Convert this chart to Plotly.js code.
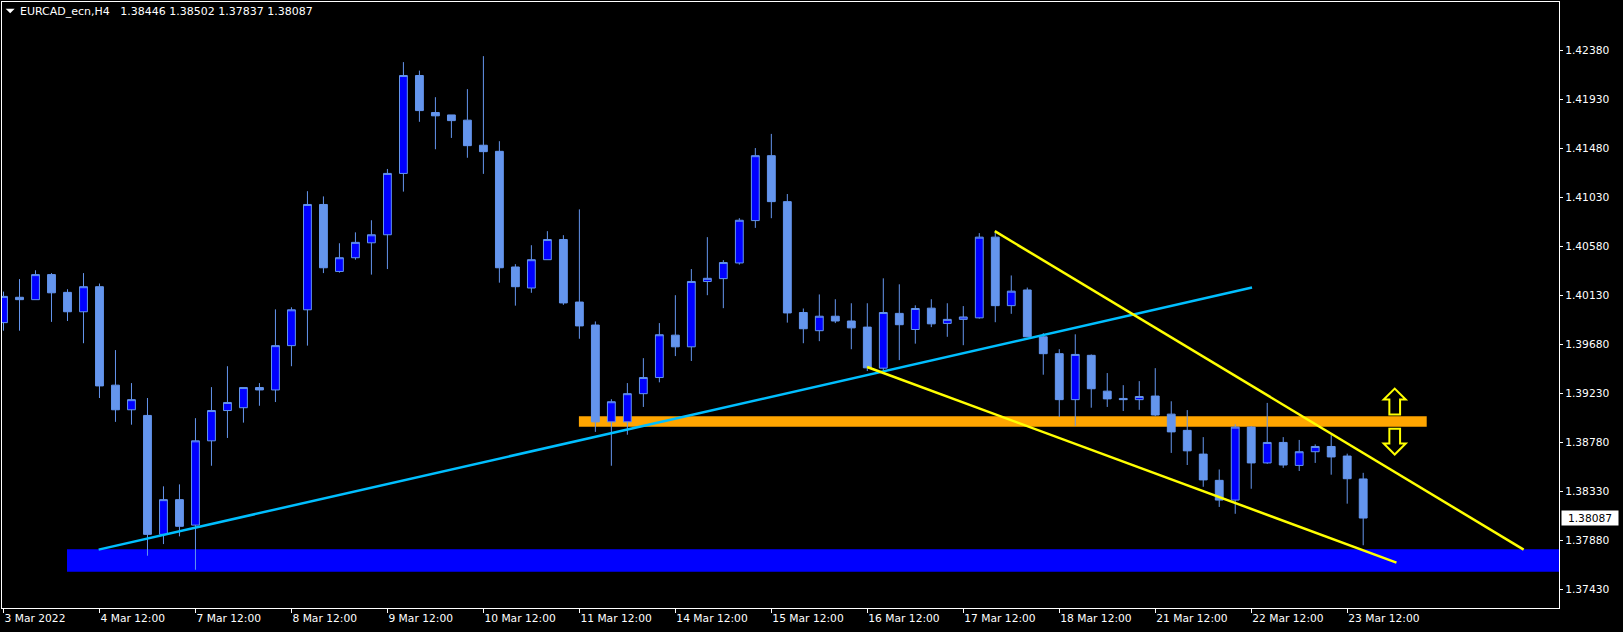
<!DOCTYPE html>
<html>
<head>
<meta charset="utf-8">
<script src="https://cdn.plot.ly/plotly-3.0.1.min.js"></script>
<style>
html,body{margin:0;padding:0;background:#000;}
#chart{width:1623px;height:632px;}
</style>
</head>
<body>
<div id="chart"></div>
<script>
// ---- data (EURCAD_ecn, H4) ----
const days = ["2022-03-03","2022-03-04","2022-03-07","2022-03-08","2022-03-09","2022-03-10","2022-03-11",
              "2022-03-14","2022-03-15","2022-03-16","2022-03-17","2022-03-18","2022-03-21","2022-03-22","2022-03-23"];
const hours = ["00:00","04:00","08:00","12:00","16:00","20:00"];

const open = [1.39881,1.40114,1.40092,1.40322,1.40159,1.39981,1.40211,1.39307,1.39081,1.39029,
1.37937,1.38256,1.38022,1.38796,1.39074,1.39100,1.39285,1.39263,1.39670,1.39999,
1.40966,1.40351,1.40477,1.40614,1.40688,1.41251,1.42150,1.41810,1.41788,1.41740,
1.41510,1.41454,1.40392,1.40199,1.40459,1.40644,1.40070,1.39859,1.38970,1.38970,
1.39229,1.39377,1.39766,1.39659,1.40259,1.40285,1.40429,1.40818,1.41414,1.40992,
1.39974,1.39807,1.39940,1.39896,1.39840,1.39463,1.39966,1.39818,1.40014,1.39874,
1.39911,1.39925,1.40666,1.40037,1.40181,1.39751,1.39596,1.39174,1.39581,1.39252,
1.39185,1.39174,1.39207,1.39041,1.38892,1.38674,1.38433,1.38252,1.38922,1.38593,
1.38781,1.38570,1.38696,1.38744,1.38656,1.38446];

const high = [1.40166,1.40281,1.40362,1.40336,1.40188,1.40336,1.40240,1.39629,1.39326,1.39189,
1.38378,1.38396,1.39004,1.39289,1.39481,1.39285,1.39326,1.40003,1.40022,1.41088,
1.41040,1.40610,1.40710,1.40821,1.41292,1.42273,1.42195,1.41951,1.41788,1.42025,
1.42328,1.41547,1.40418,1.40592,1.40721,1.40684,1.40921,1.39892,1.39178,1.39326,
1.39555,1.39877,1.40133,1.40373,1.40666,1.40455,1.40840,1.41484,1.41614,1.41062,
1.40011,1.40140,1.40096,1.40059,1.40059,1.40288,1.40233,1.40040,1.40096,1.40059,
1.40033,1.40703,1.40718,1.40314,1.40203,1.39785,1.39637,1.39774,1.39589,1.39418,
1.39307,1.39344,1.39463,1.39159,1.39078,1.38830,1.38533,1.38948,1.38930,1.39144,
1.38830,1.38804,1.38763,1.38848,1.38678,1.38502];

const low = [1.39807,1.39807,1.40092,1.39888,1.39896,1.39692,1.39189,1.38970,1.38944,1.37741,
1.37848,1.37919,1.37612,1.38567,1.38822,1.38963,1.39118,1.39152,1.39481,1.39670,
1.40336,1.40340,1.40459,1.40322,1.40373,1.41084,1.41725,1.41473,1.41577,1.41395,
1.41247,1.40248,1.40037,1.40155,1.40459,1.40044,1.39733,1.38878,1.38567,1.38852,
1.39107,1.39333,1.39574,1.39529,1.40133,1.40014,1.40414,1.40751,1.40840,1.39881,
1.39692,1.39711,1.39877,1.39637,1.39437,1.39444,1.39537,1.39688,1.39840,1.39751,
1.39674,1.39918,1.39885,1.39962,1.39751,1.39403,1.39015,1.38933,1.39100,1.39107,
1.39070,1.39081,1.39022,1.38685,1.38574,1.38374,1.38189,1.38126,1.38356,1.38585,
1.38548,1.38519,1.38593,1.38485,1.38219,1.37837];

const close = [1.40122,1.40092,1.40322,1.40155,1.39981,1.40211,1.39300,1.39081,1.39174,1.37937,
1.38256,1.38011,1.38796,1.39074,1.39148,1.39285,1.39263,1.39670,1.39999,1.40966,
1.40385,1.40477,1.40618,1.40688,1.41251,1.42150,1.41828,1.41780,1.41736,1.41506,
1.41451,1.40385,1.40211,1.40459,1.40644,1.40062,1.39851,1.38970,1.39155,1.39229,
1.39377,1.39770,1.39659,1.40259,1.40288,1.40433,1.40821,1.41414,1.40992,1.39970,
1.39825,1.39940,1.39896,1.39833,1.39466,1.39974,1.39862,1.40011,1.39870,1.39911,
1.39933,1.40666,1.40037,1.40170,1.39751,1.39596,1.39174,1.39589,1.39274,1.39181,
1.39174,1.39203,1.39033,1.38878,1.38704,1.38437,1.38252,1.38922,1.38593,1.38781,
1.38574,1.38696,1.38744,1.38648,1.38448,1.38087];

const xTickText = ["3 Mar 2022","4 Mar 12:00","7 Mar 12:00","8 Mar 12:00","9 Mar 12:00","10 Mar 12:00",
  "11 Mar 12:00","14 Mar 12:00","15 Mar 12:00","16 Mar 12:00","17 Mar 12:00","18 Mar 12:00",
  "21 Mar 12:00","22 Mar 12:00","23 Mar 12:00"];
const yTicks = [1.37430,1.37880,1.38330,1.38780,1.39230,1.39680,1.40130,1.40580,1.41030,1.41480,1.41930,1.42380];

// drawn objects (bar index, price)
const supportZone = {x0: 3.97, y0: 1.37593, y1: 1.37800};
const levelZone = {x0: 35.97, x1: 88.97, y0: 1.38926, y1: 1.39022};
const cyanLine = {x0: 5.95, y0: 1.37797, x1: 78.05, y1: 1.40203};
const yellowUpper = {x0: 61.97, y0: 1.40721, x1: 95.03, y1: 1.37797};
const yellowLower = {x0: 53.99, y0: 1.39474, x1: 87.08, y1: 1.37678};
const lastPrice = 1.38087;
const titleText = "EURCAD_ecn,H4\u00a0\u00a0 1.38446 1.38502 1.37837 1.38087";

// ---- build ----
const times = [];
days.forEach(d => hours.forEach(h => times.push(d + " " + h)));
const firstIdx = times.indexOf("2022-03-03 12:00");
const lastIdx = times.indexOf("2022-03-23 16:00");
const barTimes = times.slice(firstIdx, lastIdx + 1);
const xIdx = barTimes.map((t, i) => i);
const xTickVals = barTimes.map((t, i) => t.endsWith("12:00") ? i : null).filter(v => v !== null);

const FONT = "DejaVu Sans";
const BULL = "#0000FF", BEAR = "#6495ED", WICK = "#6495ED";

const trace = {
  type: "candlestick",
  x: xIdx, open: open, high: high, low: low, close: close,
  text: barTimes, hoverinfo: "text+y",
  increasing: {fillcolor: BULL, line: {color: WICK, width: 1}},
  decreasing: {fillcolor: BEAR, line: {color: WICK, width: 1}},
  whiskerwidth: 0
};

function upArrow(cx, tip, headBase, base, hw, sw) {
  return `M ${cx-sw},${base} L ${cx+sw},${base} L ${cx+sw},${headBase} L ${cx+hw},${headBase} L ${cx},${tip} L ${cx-hw},${headBase} L ${cx-sw},${headBase} Z`;
}

const shapes = [
  {type:"rect", xref:"x", yref:"y", x0: supportZone.x0, x1: 97.3, y0: supportZone.y0, y1: supportZone.y1,
   fillcolor:"#0000FF", line:{width:0}, layer:"below"},
  {type:"rect", xref:"x", yref:"y", x0: levelZone.x0, x1: levelZone.x1, y0: levelZone.y0, y1: levelZone.y1,
   fillcolor:"#FFA500", line:{width:0}, layer:"below"},
  {type:"line", xref:"x", yref:"y", x0: cyanLine.x0, y0: cyanLine.y0, x1: cyanLine.x1, y1: cyanLine.y1,
   line:{color:"#00BFFF", width:2.5}},
  {type:"line", xref:"x", yref:"y", x0: yellowUpper.x0, y0: yellowUpper.y0, x1: yellowUpper.x1, y1: yellowUpper.y1,
   line:{color:"#FFFF00", width:2.5}},
  {type:"line", xref:"x", yref:"y", x0: yellowLower.x0, y0: yellowLower.y0, x1: yellowLower.x1, y1: yellowLower.y1,
   line:{color:"#FFFF00", width:2.5}},
  {type:"path", xref:"x", yref:"y", path: upArrow(86.97, 1.39276, 1.39175, 1.39038, 0.69, 0.335),
   line:{color:"#FFFF00", width:2}, fillcolor:"#000000"},
  {type:"path", xref:"x", yref:"y", path: upArrow(86.97, 1.38670, 1.38771, 1.38907, 0.69, 0.335),
   line:{color:"#FFFF00", width:2}, fillcolor:"#000000"},
  {type:"path", xref:"paper", yref:"paper", xsizemode:"pixel", ysizemode:"pixel", xanchor:0, yanchor:1,
   path:"M 3.7,-6.7 L 12.7,-6.7 L 8.2,-11.2 Z", fillcolor:"#FFFFFF", line:{width:0}}
];

const annotations = [
  {xref:"paper", yref:"paper", x:0, y:1, xanchor:"left", yanchor:"middle", xshift:16, yshift:-9.5,
   text: titleText, showarrow:false, font:{family:FONT, size:11, color:"#FFFFFF"}},
  {xref:"paper", yref:"y", x:1, y:lastPrice, xanchor:"left", yanchor:"middle", xshift:1.5,
   text: lastPrice.toFixed(5), showarrow:false, bgcolor:"#FFFFFF", width:54, height:12, borderpad:1,
   font:{family:FONT, size:10.7, color:"#000000"}}
];

const layout = {
  width:1623, height:632,
  margin:{l:2, r:64, t:2, b:24, pad:0},
  paper_bgcolor:"#000000", plot_bgcolor:"#000000",
  showlegend:false,
  hovermode:false,
  xaxis:{type:"linear", range:[-0.094, 97.24], showgrid:false, zeroline:false,
    showline:true, mirror:true, linecolor:"#FFFFFF", linewidth:1,
    ticks:"outside", ticklen:4, tickcolor:"#FFFFFF", tickwidth:1,
    tickvals: xTickVals, ticktext: xTickText, ticklabelposition:"outside right",
    tickfont:{family:FONT, size:10.7, color:"#FFFFFF"},
    rangeslider:{visible:false}, fixedrange:true},
  yaxis:{side:"right", range:[1.37261, 1.42825], showgrid:false, zeroline:false,
    showline:true, mirror:true, linecolor:"#FFFFFF", linewidth:1,
    ticks:"outside", ticklen:3, tickcolor:"#FFFFFF", tickwidth:1,
    tickvals: yTicks, ticktext: yTicks.map(v => v.toFixed(5)),
    tickfont:{family:FONT, size:10.7, color:"#FFFFFF"}, fixedrange:true},
  shapes: shapes,
  annotations: annotations
};

Plotly.newPlot("chart", [trace], layout, {displayModeBar:false, staticPlot:true});
</script>
</body>
</html>
